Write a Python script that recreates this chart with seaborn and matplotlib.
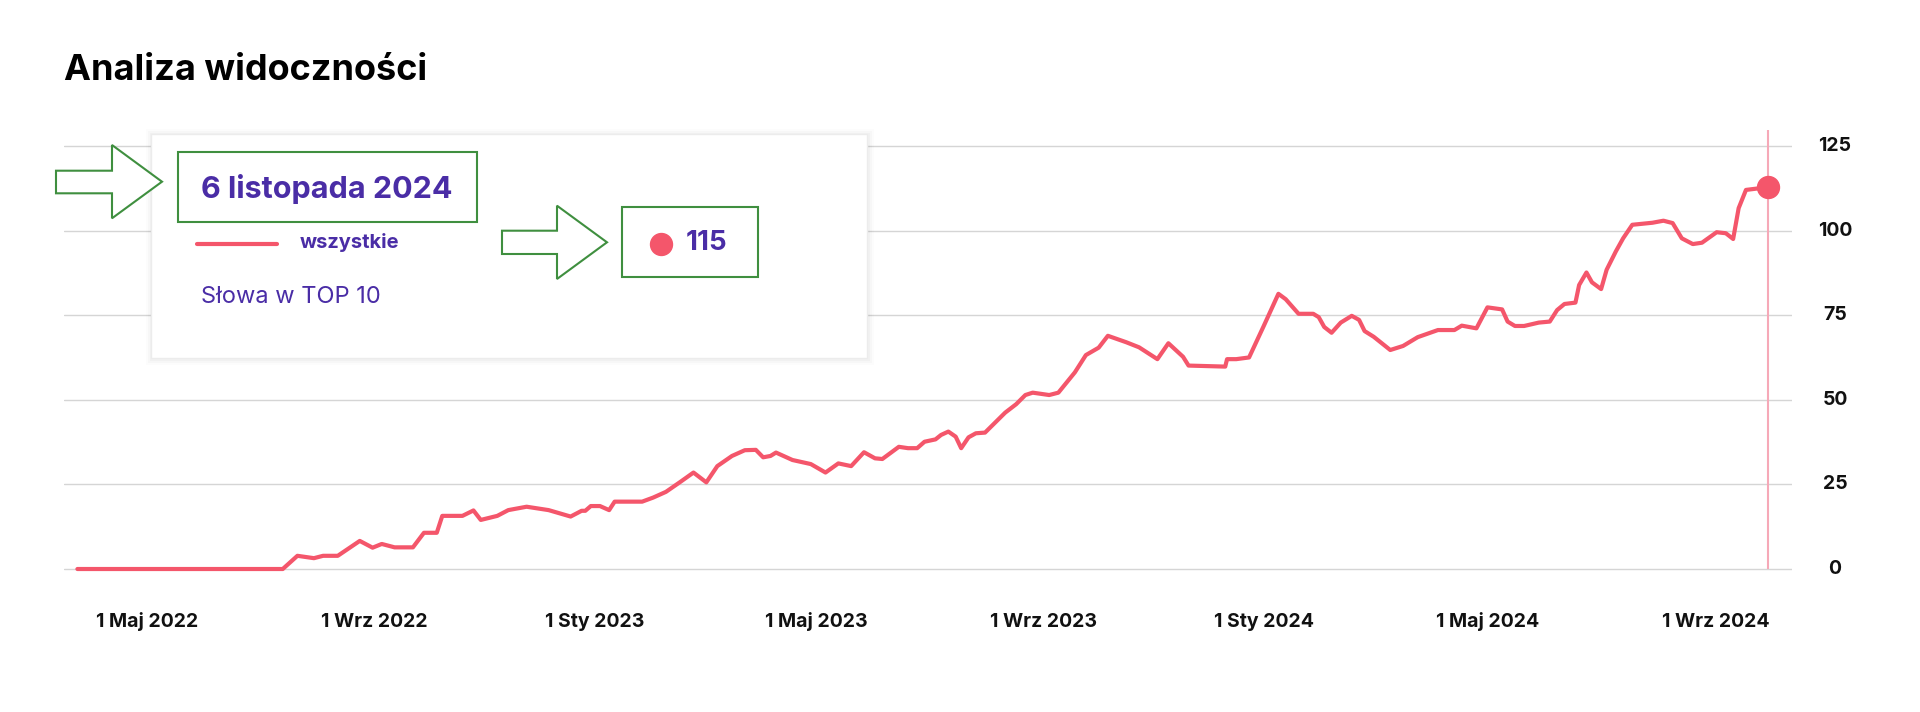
# visibility chart: keywords in TOP 10 over time, with the hover tooltip

import pandas as pd
import matplotlib.pyplot as plt
import matplotlib.patches as mpatches
import matplotlib.lines as mlines
import matplotlib.transforms as mtransforms
import seaborn as sns

dates = [
    '2022-04-29', '2022-08-19', '2022-08-27', '2022-09-05', '2022-09-10', '2022-09-18',
    '2022-09-30', '2022-10-07', '2022-10-12', '2022-10-19', '2022-10-29', '2022-11-04',
    '2022-11-11', '2022-11-14', '2022-11-25', '2022-12-01', '2022-12-05', '2022-12-14',
    '2022-12-20', '2022-12-30', '2023-01-11', '2023-01-23', '2023-01-29', '2023-01-31',
    '2023-02-03', '2023-02-08', '2023-02-13', '2023-02-16', '2023-03-03', '2023-03-09',
    '2023-03-16', '2023-03-24', '2023-03-31', '2023-04-07', '2023-04-13', '2023-04-21',
    '2023-04-28', '2023-05-04', '2023-05-08', '2023-05-12', '2023-05-15', '2023-05-24',
    '2023-06-03', '2023-06-11', '2023-06-18', '2023-06-25', '2023-07-02', '2023-07-08',
    '2023-07-12', '2023-07-21', '2023-07-26', '2023-07-31', '2023-08-04', '2023-08-10',
    '2023-08-13', '2023-08-17', '2023-08-21', '2023-08-24', '2023-08-28', '2023-09-01',
    '2023-09-06', '2023-09-11', '2023-09-17', '2023-09-23', '2023-09-28', '2023-10-02',
    '2023-10-11', '2023-10-16', '2023-10-25', '2023-10-31', '2023-11-07', '2023-11-12',
    '2023-11-22', '2023-11-29', '2023-12-09', '2023-12-15', '2023-12-23', '2023-12-26',
    '2024-01-15', '2024-01-16', '2024-01-21', '2024-01-28', '2024-02-05', '2024-02-13',
    '2024-02-17', '2024-02-24', '2024-03-03', '2024-03-06', '2024-03-09', '2024-03-13',
    '2024-03-18', '2024-03-24', '2024-03-28', '2024-03-31', '2024-04-05', '2024-04-14',
    '2024-04-21', '2024-04-29', '2024-05-10', '2024-05-19', '2024-05-23', '2024-05-31',
    '2024-06-06', '2024-06-14', '2024-06-17', '2024-06-21', '2024-06-26', '2024-07-04',
    '2024-07-10', '2024-07-14', '2024-07-18', '2024-07-24', '2024-07-26', '2024-07-30',
    '2024-08-02', '2024-08-07', '2024-08-10', '2024-08-15', '2024-08-19', '2024-08-24',
    '2024-09-04', '2024-09-10', '2024-09-15', '2024-09-20', '2024-09-26', '2024-10-01',
    '2024-10-09', '2024-10-14', '2024-10-18', '2024-10-21', '2024-10-25', '2024-10-31',
    '2024-11-06',
]
values = [
    0, 0, 3.9, 3.2, 3.9, 3.9,
    8.3, 6.3, 7.4, 6.4, 6.4, 10.7,
    10.7, 15.7, 15.7, 17.3, 14.5, 15.7,
    17.4, 18.4, 17.4, 15.5, 17.2, 17.2,
    18.6, 18.6, 17.4, 19.9, 19.9, 21.1,
    22.8, 25.8, 28.5, 25.6, 30.4, 33.4,
    35.1, 35.2, 33.0, 33.4, 34.4, 32.2,
    31.0, 28.5, 31.2, 30.4, 34.5, 32.7,
    32.5, 36.1, 35.7, 35.7, 37.6, 38.3,
    39.6, 40.6, 39.1, 35.7, 38.9, 40.1,
    40.3, 43.0, 46.2, 48.7, 51.4, 52.1,
    51.4, 52.1, 58.1, 63.2, 65.4, 68.9,
    67.0, 65.5, 62.0, 66.7, 62.7, 60.1,
    59.8, 62.0, 62.0, 62.5, 71.8, 81.3,
    79.7, 75.4, 75.4, 74.4, 71.5, 69.8,
    72.8, 74.8, 73.6, 70.3, 68.6, 64.7,
    65.9, 68.5, 70.6, 70.6, 71.9, 71.1,
    77.3, 76.7, 73.1, 71.8, 71.8, 72.8,
    73.1, 76.5, 78.3, 78.7, 83.9, 87.6,
    84.7, 82.7, 88.4, 93.8, 97.7, 101.7,
    102.3, 102.9, 102.2, 97.7, 96.0, 96.4,
    99.5, 99.2, 97.5, 106.6, 112.0, 112.4,
    112.8,
]

tick_dates = ['2022-05-01', '2022-09-01', '2023-01-01', '2023-05-01',
              '2023-09-01', '2024-01-01', '2024-05-01', '2024-09-01']
tick_labels = ['1 Maj 2022', '1 Wrz 2022', '1 Sty 2023', '1 Maj 2023',
               '1 Wrz 2023', '1 Sty 2024', '1 Maj 2024', '1 Wrz 2024']
y_ticks = [0, 25, 50, 75, 100, 125]

title = 'Analiza widoczności'
tip_date = '6 listopada 2024'
tip_series = 'wszystkie'
tip_metric = 'Słowa w TOP 10'
tip_value = '115'

line_color = '#f4566b'
purple = '#4a2da6'
green = '#3f8f3f'

sns.set_theme(style='white')
plt.rcParams['font.family'] = ['Inter', 'DejaVu Sans']

df = pd.DataFrame({'date': pd.to_datetime(dates), 'value': values})

W, H = 1920, 712
fig = plt.figure(figsize=(W / 100, H / 100), dpi=100)
fig.patch.set_facecolor('white')


def fx(x):
    return x / W


def fy(y):
    return 1 - y / H


ax = fig.add_axes([fx(64), fy(575), fx(1792) - fx(64), fy(130) - fy(575)])
ax.set_facecolor('white')

for t in y_ticks:
    ax.axhline(t, color='#d5d5d5', lw=1, zorder=0)

last = df.iloc[-1]
ax.vlines(last['date'], 0, 129.7, color='#f6a9b8', lw=1.5, zorder=1)

sns.lineplot(data=df, x='date', y='value', ax=ax, color=line_color, lw=3,
             zorder=3, clip_on=False)
ax.scatter([last['date']], [last['value']], s=250, color=line_color, zorder=4,
           clip_on=False)

start = pd.Timestamp('2022-04-27')
ax.set_xlim(start + pd.Timedelta(days=-5.3), start + pd.Timedelta(days=937.1))
ax.set_ylim(-1.77, 129.7)

sns.despine(ax=ax, left=True, bottom=True, right=True, top=True)
ax.set_xlabel('')
ax.set_ylabel('')
ax.set_xticks([])
ax.set_yticks([])

# y labels: centred in the right margin, at the data height of each gridline
ylab_trans = mtransforms.blended_transform_factory(fig.transFigure, ax.transData)
for t in y_ticks:
    fig.text(fx(1835), t, str(t), transform=ylab_trans, ha='center', va='center',
             fontsize=14, fontweight='bold', color='#111111')

# x labels sit just right of each month start
for d, lab in zip(tick_dates, tick_labels):
    ax.annotate(lab, xy=(pd.Timestamp(d), 0), xycoords=('data', 'axes fraction'),
                xytext=(10.5, -37.4), textcoords='offset points',
                ha='left', va='baseline', fontsize=14, fontweight='bold',
                color='#111111')

# title
fig.text(fx(64), fy(71), title, ha='left', va='center', fontsize=26,
         fontweight='bold', color='#000000')

# tooltip box with soft shadow
for g, a in [(6, 0.012), (4, 0.018), (2, 0.025)]:
    fig.add_artist(mpatches.Rectangle((fx(151 - g + 1), fy(358 + g + 1)),
                                      fx(716 + 2 * g), fy(0) - fy(224 + 2 * g),
                                      transform=fig.transFigure, facecolor='black',
                                      edgecolor='none', alpha=a, zorder=5))
fig.add_artist(mpatches.Rectangle((fx(151), fy(358)), fx(716), fy(0) - fy(224),
                                  transform=fig.transFigure, facecolor='white',
                                  edgecolor='#ececec', lw=1, zorder=6))

fig.text(fx(201), fy(189), tip_date, ha='left', va='center', fontsize=22,
         fontweight='bold', color=purple, zorder=8)
fig.add_artist(mlines.Line2D([fx(197), fx(277)], [fy(244), fy(244)], color=line_color,
                             lw=3, transform=fig.transFigure, zorder=8))
fig.text(fx(300), fy(242), tip_series, ha='left', va='center', fontsize=14.5,
         fontweight='bold', color=purple, zorder=8)
fig.text(fx(201), fy(297), tip_metric, ha='left', va='center', fontsize=17,
         color=purple, zorder=8)
fig.add_artist(mlines.Line2D([fx(661)], [fy(244)], marker='o', markersize=15.8,
                             color=line_color, transform=fig.transFigure, zorder=8))
fig.text(fx(686), fy(243), tip_value, ha='left', va='center', fontsize=20,
         fontweight='bold', color=purple, zorder=8)

# green annotation boxes and arrows
for (x0, y0, x1, y1) in [(178, 152.3, 476.5, 222.3), (621.7, 206.7, 757.8, 277.3)]:
    fig.add_artist(mpatches.Rectangle((fx(x0), fy(y1)), fx(x1 - x0), fy(y0) - fy(y1),
                                      transform=fig.transFigure, facecolor='none',
                                      edgecolor=green, lw=1.5, zorder=9))

arrows = [
    [(56, 170.7), (112, 170.7), (112, 145), (162, 181.7), (112, 218.3), (112, 193.3), (56, 193.3)],
    [(502, 230.7), (557, 230.7), (557, 205.7), (607, 242.3), (557, 279), (557, 254), (502, 254)],
]
for pts in arrows:
    fig.add_artist(mpatches.Polygon([(fx(x), fy(y)) for x, y in pts], closed=True,
                                    transform=fig.transFigure, facecolor='white',
                                    edgecolor=green, lw=1.5, zorder=9))

fig.savefig('out.png', dpi=100, facecolor='white')
